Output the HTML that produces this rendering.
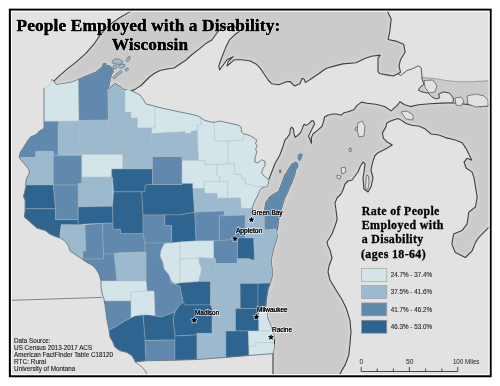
<!DOCTYPE html><html><head><meta charset="utf-8"><style>html,body{margin:0;padding:0;background:#fff;overflow:hidden}svg{display:block;will-change:transform}</style></head><body>
<svg width="500" height="386" viewBox="0 0 500 386">
<defs><filter id="bl" x="-5%" y="-5%" width="110%" height="110%"><feGaussianBlur stdDeviation="1.8"/></filter>
<clipPath id="cs"><polygon points="133.4,10 129.2,12.1 118.8,18.3 108.5,25.6 100.2,34.9 93.9,44.2 85.6,53.6 76.3,61.9 67,69.1 58.7,76.4 53.5,81.6 52,80 56.6,84.7 62.8,83.7 71.1,82.6 78.4,79.5 87.7,75.4 96,72.2 102.2,67.1 103.2,64 105.5,63.4 106.1,65.2 109,65.7 112.5,68.6 113.1,71.6 111.3,74.5 110.2,79.1 109,85 107.8,89.6 115.4,83.8 124.1,89.6 130,91 134.6,89.6 141.6,85 146,80.5 150,76.5 155,73 160,70.5 167,69 174,68 180,64 186,60 192,54.5 200,48.4 206.2,43.2 211.8,40 217.8,31.8 224,27 234,26 239.4,31.2 234.1,35.3 229.3,40.2 226.1,46.6 222.9,54.6 220.5,61 218.8,65.9 219.6,70 227,59.8 231.1,57.7 233.2,56.7 228,61.9 227,66 234.2,59.8 241.5,59.8 249.8,60.8 256,63.9 260.2,68.1 264.3,74.3 268.5,80.5 271.6,83.7 278.8,84.7 287.1,81.6 290,81.5 294.4,85.9 299.9,83.7 302.1,78.2 304.3,79.3 305.4,82.6 312,78.2 318.6,73.8 326.3,68.3 334,66.1 342.8,63.9 356,62.8 364.8,58.4 371.4,56.2 380.2,55.1 378,58.4 378,71.6 380.2,73.8 386.8,74.9 393.4,76 397.8,73.8 400.5,72.2 399,65.9 400.5,59.7 405.2,52 403.6,44.2 395.9,41.1 388.1,39.5 389.7,31.8 391.2,19.3 386.8,10 386.8,-10 133.4,-10"/></clipPath><clipPath id="cm"><polygon points="273,395 273,375 273,353.6 274.5,345 274.5,338.5 273.3,332.6 271.6,328 269.2,322.1 267.5,317.5 266.9,312.8 265.7,307 266.3,300 268,289 270,283 272,277 272,269 271,261 272,255 274,247 276,241 277.6,235.8 276.4,232.2 277.6,227.4 278.8,218 280.5,212 282.4,205 284.6,198 287.2,192.8 289.2,187.6 291.8,182.4 293.7,177.2 295,173.3 295.7,169.5 297.6,166.9 297.6,163.6 295.7,162.3 291.8,164.3 289.2,168.2 286.6,172.7 284.6,175.9 282.7,181.1 280.8,186.3 278.8,191.5 273,194.7 269.1,198 267.8,200 265.8,202.6 264.6,211 263.8,215.4 255,216 252,211 252,207.4 253.8,202.6 255.6,199 258,194.2 259.8,189.4 263.4,187 267,186.4 268.2,182.8 268.8,179.6 274.8,164 279.6,155.6 283.1,146.2 285,139.8 287.4,137.4 289.8,133.8 290.4,129 291.6,127.2 293.4,129 294,133.8 295.2,137.4 298.2,135 300.6,132.6 303,126.6 304.2,124.2 306,125.4 309,123.6 312,120.6 313.8,121.2 314.4,124.2 312,129 310.2,132.6 308.4,136.2 310.2,139.8 311.4,143.4 311.4,137.4 313.2,133.8 316.2,131.4 319.8,128.4 322.2,126 323.4,121.8 324.6,117 327.6,115.2 333,114 336.6,114 341.4,115.2 343.8,112.8 347.2,112 353.8,109.8 357.1,105.4 361.5,102.1 367,103.2 375.8,104.3 384.6,106.5 391.2,110.9 397.9,104.7 399.9,101.7 404.7,104.7 410.5,106.6 418.3,104.7 430,103.7 441.6,103.1 453.3,102.7 468.8,104.7 480.4,106.6 490,105.6 510,105.6 510,225.6 490,225.6 489,227.2 485.6,230.6 478.9,237.3 475.5,242.4 472.1,250.8 465.4,257.5 455.3,252.5 451.9,244.1 453.6,234 462,230.6 467.1,223.9 468.8,212.1 475.5,207 477.2,196.9 475.5,186.8 473.8,176.7 471.9,171.9 466.1,168 464.1,162.2 467,158.3 471.9,160.2 469.9,156.3 466.1,148.6 462.2,142.7 454.4,139.8 446.6,137.9 438.9,135 431.1,134 425.3,129.1 419.4,126.2 411.7,125.3 405.8,123.3 400,119.4 397.8,118.6 391.2,120.8 386.8,123 385.7,127.4 382.4,132.9 383.5,138.4 386.8,141.7 392.3,145 384.6,149.4 378,152.7 374.7,156 372.5,162.6 371,170 373,178 371,187 368,192 364,189 363,178 364,172 365,164 363,162 360,167 358,172 355,176 352,180 348,181 345,184 343,190 341,194 337,198 335,203 336,210 337,218 337,220 335,226 332,234 327,242 328,246 330,250 332,258 329,266 328,272 330,280 336,290 341.8,299.3 346.4,308.6 350,320.3 351,332 350,343.6 348.8,355.3 345.3,364.6 341.8,370.4 339.4,375 339.4,395"/></clipPath>
<clipPath id="fr"><rect x="11" y="11" width="478" height="364"/></clipPath></defs>
<rect x="0" y="0" width="500" height="386" fill="#fff"/>
<g clip-path="url(#fr)">
<rect x="11" y="11" width="478" height="364" fill="#e2e2e2"/>
<g stroke-linejoin="round">
<polygon points="133.4,10 129.2,12.1 118.8,18.3 108.5,25.6 100.2,34.9 93.9,44.2 85.6,53.6 76.3,61.9 67,69.1 58.7,76.4 53.5,81.6 52,80 56.6,84.7 62.8,83.7 71.1,82.6 78.4,79.5 87.7,75.4 96,72.2 102.2,67.1 103.2,64 105.5,63.4 106.1,65.2 109,65.7 112.5,68.6 113.1,71.6 111.3,74.5 110.2,79.1 109,85 107.8,89.6 115.4,83.8 124.1,89.6 130,91 134.6,89.6 141.6,85 146,80.5 150,76.5 155,73 160,70.5 167,69 174,68 180,64 186,60 192,54.5 200,48.4 206.2,43.2 211.8,40 217.8,31.8 224,27 234,26 239.4,31.2 234.1,35.3 229.3,40.2 226.1,46.6 222.9,54.6 220.5,61 218.8,65.9 219.6,70 227,59.8 231.1,57.7 233.2,56.7 228,61.9 227,66 234.2,59.8 241.5,59.8 249.8,60.8 256,63.9 260.2,68.1 264.3,74.3 268.5,80.5 271.6,83.7 278.8,84.7 287.1,81.6 290,81.5 294.4,85.9 299.9,83.7 302.1,78.2 304.3,79.3 305.4,82.6 312,78.2 318.6,73.8 326.3,68.3 334,66.1 342.8,63.9 356,62.8 364.8,58.4 371.4,56.2 380.2,55.1 378,58.4 378,71.6 380.2,73.8 386.8,74.9 393.4,76 397.8,73.8 400.5,72.2 399,65.9 400.5,59.7 405.2,52 403.6,44.2 395.9,41.1 388.1,39.5 389.7,31.8 391.2,19.3 386.8,10 386.8,-10 133.4,-10" fill="#cbcbcb" stroke="none" stroke-width="0" />
<polygon points="273,395 273,375 273,353.6 274.5,345 274.5,338.5 273.3,332.6 271.6,328 269.2,322.1 267.5,317.5 266.9,312.8 265.7,307 266.3,300 268,289 270,283 272,277 272,269 271,261 272,255 274,247 276,241 277.6,235.8 276.4,232.2 277.6,227.4 278.8,218 280.5,212 282.4,205 284.6,198 287.2,192.8 289.2,187.6 291.8,182.4 293.7,177.2 295,173.3 295.7,169.5 297.6,166.9 297.6,163.6 295.7,162.3 291.8,164.3 289.2,168.2 286.6,172.7 284.6,175.9 282.7,181.1 280.8,186.3 278.8,191.5 273,194.7 269.1,198 267.8,200 265.8,202.6 264.6,211 263.8,215.4 255,216 252,211 252,207.4 253.8,202.6 255.6,199 258,194.2 259.8,189.4 263.4,187 267,186.4 268.2,182.8 268.8,179.6 274.8,164 279.6,155.6 283.1,146.2 285,139.8 287.4,137.4 289.8,133.8 290.4,129 291.6,127.2 293.4,129 294,133.8 295.2,137.4 298.2,135 300.6,132.6 303,126.6 304.2,124.2 306,125.4 309,123.6 312,120.6 313.8,121.2 314.4,124.2 312,129 310.2,132.6 308.4,136.2 310.2,139.8 311.4,143.4 311.4,137.4 313.2,133.8 316.2,131.4 319.8,128.4 322.2,126 323.4,121.8 324.6,117 327.6,115.2 333,114 336.6,114 341.4,115.2 343.8,112.8 347.2,112 353.8,109.8 357.1,105.4 361.5,102.1 367,103.2 375.8,104.3 384.6,106.5 391.2,110.9 397.9,104.7 399.9,101.7 404.7,104.7 410.5,106.6 418.3,104.7 430,103.7 441.6,103.1 453.3,102.7 468.8,104.7 480.4,106.6 490,105.6 510,105.6 510,225.6 490,225.6 489,227.2 485.6,230.6 478.9,237.3 475.5,242.4 472.1,250.8 465.4,257.5 455.3,252.5 451.9,244.1 453.6,234 462,230.6 467.1,223.9 468.8,212.1 475.5,207 477.2,196.9 475.5,186.8 473.8,176.7 471.9,171.9 466.1,168 464.1,162.2 467,158.3 471.9,160.2 469.9,156.3 466.1,148.6 462.2,142.7 454.4,139.8 446.6,137.9 438.9,135 431.1,134 425.3,129.1 419.4,126.2 411.7,125.3 405.8,123.3 400,119.4 397.8,118.6 391.2,120.8 386.8,123 385.7,127.4 382.4,132.9 383.5,138.4 386.8,141.7 392.3,145 384.6,149.4 378,152.7 374.7,156 372.5,162.6 371,170 373,178 371,187 368,192 364,189 363,178 364,172 365,164 363,162 360,167 358,172 355,176 352,180 348,181 345,184 343,190 341,194 337,198 335,203 336,210 337,218 337,220 335,226 332,234 327,242 328,246 330,250 332,258 329,266 328,272 330,280 336,290 341.8,299.3 346.4,308.6 350,320.3 351,332 350,343.6 348.8,355.3 345.3,364.6 341.8,370.4 339.4,375 339.4,395" fill="#cbcbcb" stroke="none" stroke-width="0" />
<g clip-path="url(#cs)"><polygon points="133.4,10 129.2,12.1 118.8,18.3 108.5,25.6 100.2,34.9 93.9,44.2 85.6,53.6 76.3,61.9 67,69.1 58.7,76.4 53.5,81.6 52,80 56.6,84.7 62.8,83.7 71.1,82.6 78.4,79.5 87.7,75.4 96,72.2 102.2,67.1 103.2,64 105.5,63.4 106.1,65.2 109,65.7 112.5,68.6 113.1,71.6 111.3,74.5 110.2,79.1 109,85 107.8,89.6 115.4,83.8 124.1,89.6 130,91 134.6,89.6 141.6,85 146,80.5 150,76.5 155,73 160,70.5 167,69 174,68 180,64 186,60 192,54.5 200,48.4 206.2,43.2 211.8,40 217.8,31.8 224,27 234,26 239.4,31.2 234.1,35.3 229.3,40.2 226.1,46.6 222.9,54.6 220.5,61 218.8,65.9 219.6,70 227,59.8 231.1,57.7 233.2,56.7 228,61.9 227,66 234.2,59.8 241.5,59.8 249.8,60.8 256,63.9 260.2,68.1 264.3,74.3 268.5,80.5 271.6,83.7 278.8,84.7 287.1,81.6 290,81.5 294.4,85.9 299.9,83.7 302.1,78.2 304.3,79.3 305.4,82.6 312,78.2 318.6,73.8 326.3,68.3 334,66.1 342.8,63.9 356,62.8 364.8,58.4 371.4,56.2 380.2,55.1 378,58.4 378,71.6 380.2,73.8 386.8,74.9 393.4,76 397.8,73.8 400.5,72.2 399,65.9 400.5,59.7 405.2,52 403.6,44.2 395.9,41.1 388.1,39.5 389.7,31.8 391.2,19.3 386.8,10 386.8,-10 133.4,-10" fill="none" stroke="#d5d5d5" stroke-width="4" filter="url(#bl)"/></g>
<g clip-path="url(#cm)"><polygon points="273,395 273,375 273,353.6 274.5,345 274.5,338.5 273.3,332.6 271.6,328 269.2,322.1 267.5,317.5 266.9,312.8 265.7,307 266.3,300 268,289 270,283 272,277 272,269 271,261 272,255 274,247 276,241 277.6,235.8 276.4,232.2 277.6,227.4 278.8,218 280.5,212 282.4,205 284.6,198 287.2,192.8 289.2,187.6 291.8,182.4 293.7,177.2 295,173.3 295.7,169.5 297.6,166.9 297.6,163.6 295.7,162.3 291.8,164.3 289.2,168.2 286.6,172.7 284.6,175.9 282.7,181.1 280.8,186.3 278.8,191.5 273,194.7 269.1,198 267.8,200 265.8,202.6 264.6,211 263.8,215.4 255,216 252,211 252,207.4 253.8,202.6 255.6,199 258,194.2 259.8,189.4 263.4,187 267,186.4 268.2,182.8 268.8,179.6 274.8,164 279.6,155.6 283.1,146.2 285,139.8 287.4,137.4 289.8,133.8 290.4,129 291.6,127.2 293.4,129 294,133.8 295.2,137.4 298.2,135 300.6,132.6 303,126.6 304.2,124.2 306,125.4 309,123.6 312,120.6 313.8,121.2 314.4,124.2 312,129 310.2,132.6 308.4,136.2 310.2,139.8 311.4,143.4 311.4,137.4 313.2,133.8 316.2,131.4 319.8,128.4 322.2,126 323.4,121.8 324.6,117 327.6,115.2 333,114 336.6,114 341.4,115.2 343.8,112.8 347.2,112 353.8,109.8 357.1,105.4 361.5,102.1 367,103.2 375.8,104.3 384.6,106.5 391.2,110.9 397.9,104.7 399.9,101.7 404.7,104.7 410.5,106.6 418.3,104.7 430,103.7 441.6,103.1 453.3,102.7 468.8,104.7 480.4,106.6 490,105.6 510,105.6 510,225.6 490,225.6 489,227.2 485.6,230.6 478.9,237.3 475.5,242.4 472.1,250.8 465.4,257.5 455.3,252.5 451.9,244.1 453.6,234 462,230.6 467.1,223.9 468.8,212.1 475.5,207 477.2,196.9 475.5,186.8 473.8,176.7 471.9,171.9 466.1,168 464.1,162.2 467,158.3 471.9,160.2 469.9,156.3 466.1,148.6 462.2,142.7 454.4,139.8 446.6,137.9 438.9,135 431.1,134 425.3,129.1 419.4,126.2 411.7,125.3 405.8,123.3 400,119.4 397.8,118.6 391.2,120.8 386.8,123 385.7,127.4 382.4,132.9 383.5,138.4 386.8,141.7 392.3,145 384.6,149.4 378,152.7 374.7,156 372.5,162.6 371,170 373,178 371,187 368,192 364,189 363,178 364,172 365,164 363,162 360,167 358,172 355,176 352,180 348,181 345,184 343,190 341,194 337,198 335,203 336,210 337,218 337,220 335,226 332,234 327,242 328,246 330,250 332,258 329,266 328,272 330,280 336,290 341.8,299.3 346.4,308.6 350,320.3 351,332 350,343.6 348.8,355.3 345.3,364.6 341.8,370.4 339.4,375 339.4,395" fill="none" stroke="#d5d5d5" stroke-width="4" filter="url(#bl)"/></g>
<polygon points="133.4,10 129.2,12.1 118.8,18.3 108.5,25.6 100.2,34.9 93.9,44.2 85.6,53.6 76.3,61.9 67,69.1 58.7,76.4 53.5,81.6 52,80 56.6,84.7 62.8,83.7 71.1,82.6 78.4,79.5 87.7,75.4 96,72.2 102.2,67.1 103.2,64 105.5,63.4 106.1,65.2 109,65.7 112.5,68.6 113.1,71.6 111.3,74.5 110.2,79.1 109,85 107.8,89.6 115.4,83.8 124.1,89.6 130,91 134.6,89.6 141.6,85 146,80.5 150,76.5 155,73 160,70.5 167,69 174,68 180,64 186,60 192,54.5 200,48.4 206.2,43.2 211.8,40 217.8,31.8 224,27 234,26 239.4,31.2 234.1,35.3 229.3,40.2 226.1,46.6 222.9,54.6 220.5,61 218.8,65.9 219.6,70 227,59.8 231.1,57.7 233.2,56.7 228,61.9 227,66 234.2,59.8 241.5,59.8 249.8,60.8 256,63.9 260.2,68.1 264.3,74.3 268.5,80.5 271.6,83.7 278.8,84.7 287.1,81.6 290,81.5 294.4,85.9 299.9,83.7 302.1,78.2 304.3,79.3 305.4,82.6 312,78.2 318.6,73.8 326.3,68.3 334,66.1 342.8,63.9 356,62.8 364.8,58.4 371.4,56.2 380.2,55.1 378,58.4 378,71.6 380.2,73.8 386.8,74.9 393.4,76 397.8,73.8 400.5,72.2 399,65.9 400.5,59.7 405.2,52 403.6,44.2 395.9,41.1 388.1,39.5 389.7,31.8 391.2,19.3 386.8,10 386.8,-10 133.4,-10" fill="none" stroke="#3f3f3f" stroke-width="1.1" />
<polygon points="273,395 273,375 273,353.6 274.5,345 274.5,338.5 273.3,332.6 271.6,328 269.2,322.1 267.5,317.5 266.9,312.8 265.7,307 266.3,300 268,289 270,283 272,277 272,269 271,261 272,255 274,247 276,241 277.6,235.8 276.4,232.2 277.6,227.4 278.8,218 280.5,212 282.4,205 284.6,198 287.2,192.8 289.2,187.6 291.8,182.4 293.7,177.2 295,173.3 295.7,169.5 297.6,166.9 297.6,163.6 295.7,162.3 291.8,164.3 289.2,168.2 286.6,172.7 284.6,175.9 282.7,181.1 280.8,186.3 278.8,191.5 273,194.7 269.1,198 267.8,200 265.8,202.6 264.6,211 263.8,215.4 255,216 252,211 252,207.4 253.8,202.6 255.6,199 258,194.2 259.8,189.4 263.4,187 267,186.4 268.2,182.8 268.8,179.6 274.8,164 279.6,155.6 283.1,146.2 285,139.8 287.4,137.4 289.8,133.8 290.4,129 291.6,127.2 293.4,129 294,133.8 295.2,137.4 298.2,135 300.6,132.6 303,126.6 304.2,124.2 306,125.4 309,123.6 312,120.6 313.8,121.2 314.4,124.2 312,129 310.2,132.6 308.4,136.2 310.2,139.8 311.4,143.4 311.4,137.4 313.2,133.8 316.2,131.4 319.8,128.4 322.2,126 323.4,121.8 324.6,117 327.6,115.2 333,114 336.6,114 341.4,115.2 343.8,112.8 347.2,112 353.8,109.8 357.1,105.4 361.5,102.1 367,103.2 375.8,104.3 384.6,106.5 391.2,110.9 397.9,104.7 399.9,101.7 404.7,104.7 410.5,106.6 418.3,104.7 430,103.7 441.6,103.1 453.3,102.7 468.8,104.7 480.4,106.6 490,105.6 510,105.6 510,225.6 490,225.6 489,227.2 485.6,230.6 478.9,237.3 475.5,242.4 472.1,250.8 465.4,257.5 455.3,252.5 451.9,244.1 453.6,234 462,230.6 467.1,223.9 468.8,212.1 475.5,207 477.2,196.9 475.5,186.8 473.8,176.7 471.9,171.9 466.1,168 464.1,162.2 467,158.3 471.9,160.2 469.9,156.3 466.1,148.6 462.2,142.7 454.4,139.8 446.6,137.9 438.9,135 431.1,134 425.3,129.1 419.4,126.2 411.7,125.3 405.8,123.3 400,119.4 397.8,118.6 391.2,120.8 386.8,123 385.7,127.4 382.4,132.9 383.5,138.4 386.8,141.7 392.3,145 384.6,149.4 378,152.7 374.7,156 372.5,162.6 371,170 373,178 371,187 368,192 364,189 363,178 364,172 365,164 363,162 360,167 358,172 355,176 352,180 348,181 345,184 343,190 341,194 337,198 335,203 336,210 337,218 337,220 335,226 332,234 327,242 328,246 330,250 332,258 329,266 328,272 330,280 336,290 341.8,299.3 346.4,308.6 350,320.3 351,332 350,343.6 348.8,355.3 345.3,364.6 341.8,370.4 339.4,375 339.4,395" fill="none" stroke="#3f3f3f" stroke-width="1.1" />
<polygon points="422.2,77.5 433.8,78.4 445.5,80.4 457.1,81.7 472.7,81.7 510,79.4 510,106 453.3,102.7 453.3,97.9 449.4,93 443.5,92 438.7,94 439.7,97.9 435.8,98.8 431.9,96.9 428,93 422.2,92 418.3,90.1 420.2,87.2 424.1,84.3 422.2,79.4" fill="#cbcbcb" stroke="#777" stroke-width="0.6" />
<polyline points="397.8,73.8 400.8,75.5 406.7,70.7 412.5,68.7 418.3,65.8 421.2,67.8 422.2,79.4 424.1,84.3 420.2,87.2 418.3,90.1 422.2,92 428,93 431.9,96.9 435.8,98.8 439.7,97.9 438.7,94 443.5,92 449.4,93 453.3,97.9 453.3,101.7" fill="none" stroke="#4a4a4a" stroke-width="0.9"/>
<polygon points="424,80.5 433,80 437,86 435,92 429,93 425,87" fill="#e2e2e2" stroke="#555" stroke-width="0.7" />
<polygon points="455,98 461,97 464,101 461,106 456,105" fill="#e2e2e2" stroke="#555" stroke-width="0.7" />
<polygon points="467,96 476,94 484,96 488,100 488,106 476,107 468,104" fill="#e2e2e2" stroke="#555" stroke-width="0.7" />
<polygon points="401,112 407,111 413,115 413,120 406,119" fill="#e2e2e2" stroke="#555" stroke-width="0.7" />
<polygon points="358,123 362,121 365,126 364,136 359,137 357,130" fill="#e2e2e2" stroke="#555" stroke-width="0.7" />
<polygon points="341,168 345,167 346,172 342,174" fill="#e2e2e2" stroke="#555" stroke-width="0.7" />
<polygon points="337,175 341,176 340,179 337,178" fill="#e2e2e2" stroke="#555" stroke-width="0.7" />
<polygon points="366.5,175 368.5,176 369,182 368,189 366.5,191 365.5,186 366,180" fill="#e2e2e2" stroke="#555" stroke-width="0.7" />
<polygon points="355,128 357,127.5 357.5,130 355.5,130.5" fill="#e2e2e2" stroke="#555" stroke-width="0.7" />
<polygon points="349,148.5 351,148 351.5,151 349.5,151.5" fill="#e2e2e2" stroke="#555" stroke-width="0.7" />
<polygon points="112,61 115,59 119,59 122,60.5 123,62.5 120,64.5 116,64 113,63.5" fill="#9cb9cd" stroke="#556070" stroke-width="0.6" />
<polygon points="126,60.5 128,57 130,56.5 130,59 127.5,62" fill="#9cb9cd" stroke="#556070" stroke-width="0.6" />
<polygon points="113,66 115.5,65 117,67 116,69 113.5,68.5" fill="#9cb9cd" stroke="#556070" stroke-width="0.6" />
<polygon points="118,66 121,64.2 125,64.5 124.5,67 120,68.5" fill="#9cb9cd" stroke="#556070" stroke-width="0.6" />
<polygon points="124.5,69.5 127,68 128.8,69 126.5,71.5" fill="#9cb9cd" stroke="#556070" stroke-width="0.6" />
<polygon points="112.8,77.5 116,74 121,70.5 122.4,71.8 118,75.5 114,79" fill="#9cb9cd" stroke="#556070" stroke-width="0.6" />
<polyline points="11,300.3 40,299.4 102,297.4" fill="none" stroke="#5a5a5a" stroke-width="0.7"/>
<polyline points="135.2,362 137.6,363.8 142.4,367.4 145.4,371 147.2,375" fill="none" stroke="#5a5a5a" stroke-width="0.7"/>
<polygon points="52,80 56.6,84.7 62.8,83.7 71.1,82.6 78.4,79.5 79,121.2 44,121.4 44,88 47,87 49,85" fill="#d4e5ea" stroke="#a9b7c2" stroke-width="0.5" stroke-opacity="0.75"/>
<polygon points="78.4,79.5 87.7,75.4 96,72.2 102.2,67.1 103.2,64 105.5,63.4 106.1,65.2 109,65.7 112.5,68.6 113.1,71.6 111.3,74.5 110.2,79.1 109,85 107.8,89.6 108.5,120 79,120.5" fill="#6189ad" stroke="#a9b7c2" stroke-width="0.5" stroke-opacity="0.75"/>
<polygon points="107.8,89.6 115.4,83.8 124.1,89.6 125,90 125,112 131,112 131,118 137.5,118 137.5,129 108.5,129 108.5,120" fill="#9cb9cd" stroke="#a9b7c2" stroke-width="0.5" stroke-opacity="0.75"/>
<polygon points="125,90 130,90 136,93 140,95 143,99 146,104 154,106 155,107 155,128 137.5,128 137.5,118 131,118 131,112 125,112" fill="#d4e5ea" stroke="#a9b7c2" stroke-width="0.5" stroke-opacity="0.75"/>
<polygon points="155,107 166,109 180,112 190,114 198,116 201.3,119.5 201.3,124.5 197.3,125.4 197.3,130.8 191.3,131.2 190.4,133.6 185.8,133.6 184.9,131.8 151.4,133.6 151.4,128 155,128" fill="#d4e5ea" stroke="#a9b7c2" stroke-width="0.5" stroke-opacity="0.75"/>
<polygon points="121,129 137.5,129 137.5,128 151.4,128 151.4,133.6 152.5,156.5 152.5,169 122.6,169 122.6,154.5 121,154.5" fill="#9cb9cd" stroke="#a9b7c2" stroke-width="0.5" stroke-opacity="0.75"/>
<polygon points="79,120.5 108.5,120 108.5,129 121,129 121,154.5 80,154.5" fill="#9cb9cd" stroke="#a9b7c2" stroke-width="0.5" stroke-opacity="0.75"/>
<polygon points="44,121.4 44,128.6 39.8,130.7 35.7,134.8 30.5,136.9 27.4,141 24.3,146.2 20.2,152.4 19.1,157.6 35.7,157.6 35.7,151.4 53.4,151.4 53.4,155.6 58.2,155.6 58.2,121.3" fill="#6189ad" stroke="#a9b7c2" stroke-width="0.5" stroke-opacity="0.75"/>
<polygon points="58.2,121.3 79,121.2 80,154.5 80,155.5 58.2,155.6" fill="#9cb9cd" stroke="#a9b7c2" stroke-width="0.5" stroke-opacity="0.75"/>
<polygon points="19.1,157.6 35.7,157.6 35.7,151.4 53.4,151.4 53.4,185 25.6,185 26.4,178.3 29.5,173.1 28.5,169 24.3,163.8" fill="#9cb9cd" stroke="#a9b7c2" stroke-width="0.5" stroke-opacity="0.75"/>
<polygon points="53.4,155.6 58.2,155.6 80,155.5 81.8,154.5 81.8,183.6 78.2,183.8 78.2,185 53.4,185" fill="#6189ad" stroke="#a9b7c2" stroke-width="0.5" stroke-opacity="0.75"/>
<polygon points="80,154.5 121,154.5 122.6,154.5 122.6,169 111.7,169 111.7,177.2 81.8,177.2 81.8,154.5" fill="#d4e5ea" stroke="#a9b7c2" stroke-width="0.5" stroke-opacity="0.75"/>
<polygon points="81.8,177.2 111.7,177.2 112.6,177.2 112.6,206.3 78.2,207 78.2,183.8 81.8,183.6" fill="#9cb9cd" stroke="#a9b7c2" stroke-width="0.5" stroke-opacity="0.75"/>
<polygon points="25.6,185 53.4,185 55.6,208.8 25.1,208.7 25.1,200.2 23.4,196 24.3,193.5 26,185.9" fill="#2e6490" stroke="#a9b7c2" stroke-width="0.5" stroke-opacity="0.75"/>
<polygon points="25.1,208.7 55.6,208.8 55.6,219.6 78.2,219.6 78.2,225 61.4,224.7 59.8,235.8 60.5,238.2 55.5,236.5 49.6,234 45.4,230.6 36.9,228.1 30.2,222.2 24.3,217.1 25.1,210.4" fill="#2e6490" stroke="#a9b7c2" stroke-width="0.5" stroke-opacity="0.75"/>
<polygon points="53.4,185 78.2,185 78.2,219.6 55.6,219.6 55.6,208.8" fill="#6189ad" stroke="#a9b7c2" stroke-width="0.5" stroke-opacity="0.75"/>
<polygon points="78.2,207 112.6,206.3 113,223 85,224 78.2,225 78.2,219.6" fill="#2e6490" stroke="#a9b7c2" stroke-width="0.5" stroke-opacity="0.75"/>
<polygon points="61.4,224.7 85,224.8 86,251 83,251 83,257 82,259 76,255 70,251 68.5,246 65.6,241.6 60.5,238.2 59.8,235.8" fill="#9cb9cd" stroke="#a9b7c2" stroke-width="0.5" stroke-opacity="0.75"/>
<polygon points="85,224.8 102.5,223.5 103.5,254 103.5,259 86,259 82,259 83,257 83,251 86,251" fill="#6189ad" stroke="#a9b7c2" stroke-width="0.5" stroke-opacity="0.75"/>
<polygon points="102.5,223.5 113,223 113,229 120.5,229 120.5,233.5 143,233.5 145,243 145,252 117,253 114,254 103.5,254" fill="#6189ad" stroke="#a9b7c2" stroke-width="0.5" stroke-opacity="0.75"/>
<polygon points="113.6,191.7 141.7,191.7 143,214.9 143,233.5 120.5,233.5 120.5,229 113,229 113,223 112.6,206.3" fill="#2e6490" stroke="#a9b7c2" stroke-width="0.5" stroke-opacity="0.75"/>
<polygon points="111.7,169 152.5,169 152.5,184.5 145.3,185 145,191.7 113.6,191.7 112.6,177.2 111.7,177.2" fill="#2e6490" stroke="#a9b7c2" stroke-width="0.5" stroke-opacity="0.75"/>
<polygon points="145.3,185 152.5,184.5 182,184.5 182,183.2 192.8,183.2 193,188.6 194.6,212.2 180,214.9 143,214.9 141.7,191.7 145,191.7" fill="#2e6490" stroke="#a9b7c2" stroke-width="0.5" stroke-opacity="0.75"/>
<polygon points="152.5,156.5 182,156.5 182,160.5 182,183.2 182,184.5 152.5,184.5" fill="#6189ad" stroke="#a9b7c2" stroke-width="0.5" stroke-opacity="0.75"/>
<polygon points="151.4,133.6 184.9,131.8 185.8,133.6 190.4,133.6 191.3,131.2 197.3,130.8 198.5,160.5 182,160.5 182,156.5 152.5,156.5" fill="#9cb9cd" stroke="#a9b7c2" stroke-width="0.5" stroke-opacity="0.75"/>
<polygon points="182,160.5 198.5,160.5 205,160.5 205.4,164.5 216.8,164.5 216.8,175.4 219.8,176 219.8,181.4 204.2,181.4 204.2,188.6 192.8,188.6 192.8,183.2 182,183.2" fill="#d4e5ea" stroke="#a9b7c2" stroke-width="0.5" stroke-opacity="0.75"/>
<polygon points="198,116 204,120 209,121.6 214,122.4 215,141 228,141 228,164 216.8,164.5 205.4,164.5 205,160.5 198.5,160.5 197.3,125.4 201.3,124.5 201.3,119.5" fill="#d4e5ea" stroke="#a9b7c2" stroke-width="0.5" stroke-opacity="0.75"/>
<polygon points="214,122.4 220,121 226,122.4 233,124 238,125 241,127 241.6,132 244,134 243,140 228,141 215,141" fill="#d4e5ea" stroke="#a9b7c2" stroke-width="0.5" stroke-opacity="0.75"/>
<polygon points="244,134 245,134 250,135.6 254,138 256.8,140 255.6,143.6 257.4,146 255.6,149 256.8,152 255,158 255,162.2 258,162.8 261.6,159.8 264.6,161 265.2,165.2 262.8,168.8 261.6,173 264,176 267,178.4 268.8,179.6 268.2,182.8 267,186.4 254.4,187 253.2,185.2 245.4,184 244.8,178.6 242,179 241.4,174.8 234.8,174.2 234.2,163.4 228,163.4 228,141 243,140" fill="#d4e5ea" stroke="#a9b7c2" stroke-width="0.5" stroke-opacity="0.75"/>
<polygon points="216.8,164.5 228,164 234.2,163.4 234.8,174.2 241.4,174.8 242,179 244.8,178.6 245.4,184 253.2,185.2 254.4,187 267,186.4 263.4,187 259.8,189.4 258,194.2 255.6,199 253.8,202.6 252,207.4 251.4,208.5 241,208.5 240.4,198 227.6,198.2 227.6,181.4 219.8,181.4 219.8,176 216.8,175.4" fill="#d4e5ea" stroke="#a9b7c2" stroke-width="0.5" stroke-opacity="0.75"/>
<polygon points="204.2,181.4 227.6,181.4 227.6,198.2 217.4,198.2 216.8,193.4 204.8,193.4 204.2,188.6" fill="#d4e5ea" stroke="#a9b7c2" stroke-width="0.5" stroke-opacity="0.75"/>
<polygon points="192.8,188.6 204.2,188.6 204.8,193.4 216.8,193.4 217.4,198.2 240.4,198 241,208.5 241.4,215.2 224,215.8 224,211 194.6,212.2 193,188.6" fill="#9cb9cd" stroke="#a9b7c2" stroke-width="0.5" stroke-opacity="0.75"/>
<polygon points="295.7,162.3 297.6,163.6 297.6,166.9 295.7,169.5 295,173.3 293.7,177.2 291.8,182.4 289.2,187.6 287.2,192.8 284.6,198 282.4,205 280.5,212 278.8,218 277.6,227.4 276.4,229 264.4,230 264.2,214 264.6,211 265.8,202.6 267.8,200 269.1,198 273,194.7 278.8,191.5 280.8,186.3 282.7,181.1 284.6,175.9 286.6,172.7 289.2,168.2 291.8,164.3" fill="#6189ad" stroke="#a9b7c2" stroke-width="0.5" stroke-opacity="0.75"/>
<polygon points="297.6,155 300,153.2 302.8,154 302,158 299.5,161.7 297.6,159" fill="#6189ad" stroke="#a9b7c2" stroke-width="0.5" stroke-opacity="0.75"/>
<polygon points="278.8,170 281,169.5 281.4,172.5 279.5,173.3" fill="#6a6a6a" stroke="#a9b7c2" stroke-width="0.5" stroke-opacity="0.75"/>
<polygon points="241,208.5 251.4,208.5 252,211 255,216 263.8,215.4 264.4,230 253.6,230 253.6,238 245,238 245,215 241.4,215.2" fill="#9cb9cd" stroke="#a9b7c2" stroke-width="0.5" stroke-opacity="0.75"/>
<polygon points="253.6,230 264.4,230 276.4,229 277.6,235.8 276,241 274,247 272,255 271,261 254.4,260.7 253.6,238" fill="#9cb9cd" stroke="#a9b7c2" stroke-width="0.5" stroke-opacity="0.75"/>
<polygon points="219.2,215.8 224,215.8 241.4,215.2 245,215 245,238 236.5,238 236.5,239.5 219.2,240.5" fill="#6189ad" stroke="#a9b7c2" stroke-width="0.5" stroke-opacity="0.75"/>
<polygon points="194.6,212.2 224,211 224,215.8 219.2,215.8 219.2,241 196,241" fill="#6189ad" stroke="#a9b7c2" stroke-width="0.5" stroke-opacity="0.75"/>
<polygon points="164.8,214.9 180,214.9 194.6,212.2 196,241 180,242 171.5,243 171.5,225.7 164.8,225.7" fill="#2e6490" stroke="#a9b7c2" stroke-width="0.5" stroke-opacity="0.75"/>
<polygon points="143,214.9 164.8,214.9 164.8,225.7 171.5,225.7 171.5,243 166,243 145,243 143,233.5" fill="#6189ad" stroke="#a9b7c2" stroke-width="0.5" stroke-opacity="0.75"/>
<polygon points="236.5,238 253.6,238 254.4,260.7 249,258.8 237.3,258.8 237.3,239.5 236.5,239.5" fill="#2e6490" stroke="#a9b7c2" stroke-width="0.5" stroke-opacity="0.75"/>
<polygon points="213.5,240.7 219.2,240.5 237.3,239.5 237.3,263.5 215.4,263.5 215.4,258.5 213.5,258.5" fill="#6189ad" stroke="#a9b7c2" stroke-width="0.5" stroke-opacity="0.75"/>
<polygon points="180,242 196,241 213.5,240.7 213.5,258.5 199.3,257.8 180,259.5" fill="#d4e5ea" stroke="#a9b7c2" stroke-width="0.5" stroke-opacity="0.75"/>
<polygon points="171.5,243 180,242 180,283 175,284 171,281 169,275 164,269 163,263 160,256 161,250 164,244 166,243" fill="#d4e5ea" stroke="#a9b7c2" stroke-width="0.5" stroke-opacity="0.75"/>
<polygon points="180,259.5 199.3,257.8 199.3,264 201,266 201.5,270 200.5,276 199.3,277 199.3,281.6 180,283" fill="#d4e5ea" stroke="#a9b7c2" stroke-width="0.5" stroke-opacity="0.75"/>
<polygon points="199.3,257.8 215.4,258.5 215.4,279.7 210.7,279.7 210.7,281.6 199.3,281.6 199.3,277 200.5,276 201.5,270 201,266 199.3,264" fill="#9cb9cd" stroke="#a9b7c2" stroke-width="0.5" stroke-opacity="0.75"/>
<polygon points="215.4,263.5 237.3,263.5 237.3,258.8 249,258.8 250.6,259.7 250.6,283.5 240.1,283.5 240.1,281.5 210.7,279.7 215.4,279.7" fill="#9cb9cd" stroke="#a9b7c2" stroke-width="0.5" stroke-opacity="0.75"/>
<polygon points="250.6,259.7 254.4,260.7 271,261 272,269 272,277 270,283 258,283.5 250.6,283.5" fill="#9cb9cd" stroke="#a9b7c2" stroke-width="0.5" stroke-opacity="0.75"/>
<polygon points="145,243 166,243 164,244 161,250 160,256 163,263 164,269 169,275 171,281 175,284 180,286 182,296 183,302 179,306 175,312 167,315 161,317 155,316 154,291 147,291 146,281 146,252 145,252" fill="#6189ad" stroke="#a9b7c2" stroke-width="0.5" stroke-opacity="0.75"/>
<polygon points="114,254 117,253 145,252 146,252 146,281 117,281 114,257" fill="#9cb9cd" stroke="#a9b7c2" stroke-width="0.5" stroke-opacity="0.75"/>
<polygon points="86,259 103.5,259 103.5,254 114,254 117,281 101,281 99,274 96,269 92,265 86,262 82,259" fill="#6189ad" stroke="#a9b7c2" stroke-width="0.5" stroke-opacity="0.75"/>
<polygon points="101,281 146,281 147,291 131,292 131,301 104,301 102,293 101,287" fill="#d4e5ea" stroke="#a9b7c2" stroke-width="0.5" stroke-opacity="0.75"/>
<polygon points="104,301 131,301 131,318 125,321 117,326 109,330 107,320 105,305" fill="#6189ad" stroke="#a9b7c2" stroke-width="0.5" stroke-opacity="0.75"/>
<polygon points="131,292 147,291 154,291 155,316 149,315 143,315 135,316 131,318" fill="#d4e5ea" stroke="#a9b7c2" stroke-width="0.5" stroke-opacity="0.75"/>
<polygon points="169,282 175,284 180,283 199.3,281.6 210.7,281.6 210.7,279.7 210.6,305 185,305 183,302 182,296 180,286" fill="#2e6490" stroke="#a9b7c2" stroke-width="0.5" stroke-opacity="0.75"/>
<polygon points="210.7,279.7 215.4,279.7 240.1,281.5 240.1,283.5 240.3,308.5 212.2,309.3 210.6,305" fill="#9cb9cd" stroke="#a9b7c2" stroke-width="0.5" stroke-opacity="0.75"/>
<polygon points="240.1,283.5 258,283.5 258,308.5 240.3,308.5" fill="#2e6490" stroke="#a9b7c2" stroke-width="0.5" stroke-opacity="0.75"/>
<polygon points="258,283.5 270,283 268,289 266.3,300 265.7,307 266.9,311 258.8,311.7 258,308.5" fill="#2e6490" stroke="#a9b7c2" stroke-width="0.5" stroke-opacity="0.75"/>
<polygon points="183,302 185,305 210.6,305 212.2,309.3 212.2,333.4 197,333.4 195,335 175,336 173,318 175,312 179,306" fill="#2e6490" stroke="#a9b7c2" stroke-width="0.5" stroke-opacity="0.75"/>
<polygon points="143,315 149,315 155,316 161,317 167,315 175,312 173,318 175,336 175,340 145,340.4" fill="#2e6490" stroke="#a9b7c2" stroke-width="0.5" stroke-opacity="0.75"/>
<polygon points="131,318 135,316 143,315 145,339 146,360.8 135.2,362 134,359 131.6,355.4 126.8,352.4 119.6,350.6 114.8,347 112.4,341 110,337.4 109,330 117,326 125,321" fill="#2e6490" stroke="#a9b7c2" stroke-width="0.5" stroke-opacity="0.75"/>
<polygon points="145,340.4 175,340 175,360.2 146,360.8" fill="#6189ad" stroke="#a9b7c2" stroke-width="0.5" stroke-opacity="0.75"/>
<polygon points="175,336 195,335 197,333.4 197,359.5 175,360.2" fill="#2e6490" stroke="#a9b7c2" stroke-width="0.5" stroke-opacity="0.75"/>
<polygon points="197,333.4 212.2,333.4 225.9,333 225.9,357.4 197,359.5" fill="#9cb9cd" stroke="#a9b7c2" stroke-width="0.5" stroke-opacity="0.75"/>
<polygon points="212.2,309.3 240.3,308.5 235.5,308.5 235.5,333.4 212.2,333.4" fill="#9cb9cd" stroke="#a9b7c2" stroke-width="0.5" stroke-opacity="0.75"/>
<polygon points="235.5,308.5 240.3,308.5 258,308.5 258.8,311.7 258.8,331 235.5,331" fill="#2e6490" stroke="#a9b7c2" stroke-width="0.5" stroke-opacity="0.75"/>
<polygon points="258.8,311.7 266.9,311 267.5,317.5 269.2,322.1 271.6,328 269.2,331 258.8,331" fill="#d4e5ea" stroke="#a9b7c2" stroke-width="0.5" stroke-opacity="0.75"/>
<polygon points="225.9,331 235.5,331 248.3,331 249,355.5 225.9,357.4" fill="#2e6490" stroke="#a9b7c2" stroke-width="0.5" stroke-opacity="0.75"/>
<polygon points="248.3,331 258.8,331 269.2,331 271.6,328 273.3,332.6 274.5,338.5 273,342.4 255,343 255,346.5 249,346.5" fill="#d4e5ea" stroke="#a9b7c2" stroke-width="0.5" stroke-opacity="0.75"/>
<polygon points="249,346.5 255,346.5 255,343 273,342.4 274.5,345 273,353.6 249,355.5" fill="#d4e5ea" stroke="#a9b7c2" stroke-width="0.5" stroke-opacity="0.75"/>
<polyline points="130,90 136,93 140,95 143,99 146,104 154,106 166,109 180,112 190,114 198,116 204,120 209,121.6 214,122.4 220,121 226,122.4 233,124 238,125 241,127 241.6,132 244,134 245,134 250,135.6 254,138 256.8,140 255.6,143.6 257.4,146 255.6,149 256.8,152 255,158 255,162.2 258,162.8 261.6,159.8 264.6,161 265.2,165.2 262.8,168.8 261.6,173 264,176 267,178.4 268.8,179.6" fill="none" stroke="#596470" stroke-width="0.7"/>
<polyline points="44,88 44,121.4 44,128.6 39.8,130.7 35.7,134.8 30.5,136.9 27.4,141 24.3,146.2 20.2,152.4 19.1,157.6 24.3,163.8 28.5,169 29.5,173.1 26.4,178.3 25.6,185 26,185.9 24.3,193.5 23.4,196 25.1,200.2 25.1,210.4 24.3,217.1 30.2,222.2 36.9,228.1 45.4,230.6 49.6,234 55.5,236.5 60.5,238.2 65.6,241.6 68.5,246 70,251 76,255 82,259 86,262 92,265 96,269 99,274 101,281 101,287 102,293 104,299 105,305 107,320 109,330 110,337.4 112.4,341 114.8,347 119.6,350.6 126.8,352.4 131.6,355.4 134,359 135.2,362 146,360.8 175,360.2 197,359.5 225.9,357.4 249,355.5 273,353.6" fill="none" stroke="#596470" stroke-width="0.7"/>
</g></g>
<rect x="9.9" y="9.7" width="480.7" height="366.5" fill="none" stroke="#000" stroke-width="2.1"/>
<rect x="11.45" y="11.25" width="477.6" height="363.4" fill="none" stroke="#fff" stroke-width="1"/>
<text x="16.6" y="30.6" font-family="'Liberation Serif', serif" font-size="17.3" font-weight="bold" fill="#000" textLength="263.6" lengthAdjust="spacing" stroke="#ffffff" stroke-width="1.3" stroke-opacity="0.45" style="paint-order:stroke">People Employed with a Disability:</text>
<text x="16.6" y="30.6" font-family="'Liberation Serif', serif" font-size="17.3" font-weight="bold" fill="#000" textLength="263.6" lengthAdjust="spacing" stroke="#000" stroke-width="0.3">People Employed with a Disability:</text>
<text x="111.7" y="50.3" font-family="'Liberation Serif', serif" font-size="17.3" font-weight="bold" fill="#000" textLength="76.4" lengthAdjust="spacing" stroke="#ffffff" stroke-width="1.3" stroke-opacity="0.45" style="paint-order:stroke">Wisconsin</text>
<text x="111.7" y="50.3" font-family="'Liberation Serif', serif" font-size="17.3" font-weight="bold" fill="#000" textLength="76.4" lengthAdjust="spacing" stroke="#000" stroke-width="0.3">Wisconsin</text>
<text x="361.8" y="214.5" font-family="'Liberation Serif', serif" font-size="11.9" font-weight="bold" fill="#000" textLength="77.6" lengthAdjust="spacing" stroke="#000" stroke-width="0.3">Rate of People</text>
<text x="361.8" y="228.85" font-family="'Liberation Serif', serif" font-size="11.9" font-weight="bold" fill="#000" textLength="81.6" lengthAdjust="spacing" stroke="#000" stroke-width="0.3">Employed with</text>
<text x="361.8" y="243.2" font-family="'Liberation Serif', serif" font-size="11.9" font-weight="bold" fill="#000" textLength="61.4" lengthAdjust="spacing" stroke="#000" stroke-width="0.3">a Disability</text>
<text x="361.0" y="257.55" font-family="'Liberation Serif', serif" font-size="11.9" font-weight="bold" fill="#000" textLength="64.6" lengthAdjust="spacing" stroke="#000" stroke-width="0.3">(ages 18-64)</text>
<rect x="361.6" y="268.30" width="25.2" height="13" fill="#d4e5ea" stroke="#9a9a9a" stroke-width="0.6"/>
<text x="390.7" y="277.0" font-family="'Liberation Sans', sans-serif" font-size="6.6" font-weight="normal" fill="#2a2a2a" textLength="41.3" lengthAdjust="spacingAndGlyphs" stroke="#2a2a2a" stroke-width="0.12">24.7% - 37.4%</text>
<rect x="361.6" y="285.60" width="25.2" height="13" fill="#9cb9cd" stroke="#9a9a9a" stroke-width="0.6"/>
<text x="390.7" y="294.35" font-family="'Liberation Sans', sans-serif" font-size="6.6" font-weight="normal" fill="#2a2a2a" textLength="41.3" lengthAdjust="spacingAndGlyphs" stroke="#2a2a2a" stroke-width="0.12">37.5% - 41.6%</text>
<rect x="361.6" y="302.90" width="25.2" height="13" fill="#6189ad" stroke="#9a9a9a" stroke-width="0.6"/>
<text x="390.7" y="311.7" font-family="'Liberation Sans', sans-serif" font-size="6.6" font-weight="normal" fill="#2a2a2a" textLength="41.3" lengthAdjust="spacingAndGlyphs" stroke="#2a2a2a" stroke-width="0.12">41.7% - 46.2%</text>
<rect x="361.6" y="320.20" width="25.2" height="13" fill="#2e6490" stroke="#9a9a9a" stroke-width="0.6"/>
<text x="390.7" y="329.05" font-family="'Liberation Sans', sans-serif" font-size="6.6" font-weight="normal" fill="#2a2a2a" textLength="41.3" lengthAdjust="spacingAndGlyphs" stroke="#2a2a2a" stroke-width="0.12">46.3% - 53.0%</text>
<g stroke="#222" stroke-width="0.8" fill="none">
<polyline points="361.2,367 361.2,371.5 457.8,371.5 457.8,367"/>
<line x1="377.2" y1="368.5" x2="377.2" y2="371.5"/>
<line x1="393.4" y1="368.5" x2="393.4" y2="371.5"/>
<line x1="409.4" y1="367" x2="409.4" y2="371.5"/>
<line x1="425.6" y1="368.5" x2="425.6" y2="371.5"/>
<line x1="441.9" y1="368.5" x2="441.9" y2="371.5"/>
</g>
<text x="359.4" y="364" font-family="'Liberation Sans', sans-serif" font-size="6.6" font-weight="normal" fill="#222" textLength="3.7" lengthAdjust="spacingAndGlyphs" >0</text>
<text x="406.0" y="364" font-family="'Liberation Sans', sans-serif" font-size="6.6" font-weight="normal" fill="#222" textLength="7.4" lengthAdjust="spacingAndGlyphs" >50</text>
<text x="452.9" y="364" font-family="'Liberation Sans', sans-serif" font-size="6.6" font-weight="normal" fill="#222" textLength="26.6" lengthAdjust="spacingAndGlyphs" >100 Miles</text>
<text x="14.1" y="342.5" font-family="'Liberation Sans', sans-serif" font-size="6.5" font-weight="normal" fill="#222" textLength="36.4" lengthAdjust="spacingAndGlyphs" stroke="#222" stroke-width="0.12">Data Source:</text>
<text x="14.1" y="349.5" font-family="'Liberation Sans', sans-serif" font-size="6.5" font-weight="normal" fill="#222" textLength="78.0" lengthAdjust="spacingAndGlyphs" stroke="#222" stroke-width="0.12">US Census 2013-2017 ACS</text>
<text x="14.1" y="356.5" font-family="'Liberation Sans', sans-serif" font-size="6.5" font-weight="normal" fill="#222" textLength="99.0" lengthAdjust="spacingAndGlyphs" stroke="#222" stroke-width="0.12">American FactFinder Table C18120</text>
<text x="14.1" y="363.5" font-family="'Liberation Sans', sans-serif" font-size="6.5" font-weight="normal" fill="#222" textLength="32.0" lengthAdjust="spacingAndGlyphs" stroke="#222" stroke-width="0.12">RTC: Rural</text>
<text x="14.1" y="370.5" font-family="'Liberation Sans', sans-serif" font-size="6.5" font-weight="normal" fill="#222" textLength="61.2" lengthAdjust="spacingAndGlyphs" stroke="#222" stroke-width="0.12">University of Montana</text>
<polygon points="251.50,216.40 252.37,218.50 254.64,218.68 252.91,220.16 253.44,222.37 251.50,221.19 249.56,222.37 250.09,220.16 248.36,218.68 250.63,218.50" fill="#000" stroke="#fff" stroke-width="1.3" stroke-opacity="0.75" stroke-linejoin="round" style="paint-order:stroke"/>
<text x="251.6" y="215" font-family="'Liberation Sans', sans-serif" font-size="6.6" font-weight="normal" fill="#111" textLength="31" lengthAdjust="spacingAndGlyphs" stroke="#fff" stroke-width="1.6" stroke-opacity="0.7" style="paint-order:stroke">Green Bay</text>
<text x="251.6" y="215" font-family="'Liberation Sans', sans-serif" font-size="6.6" font-weight="normal" fill="#111" textLength="31" lengthAdjust="spacingAndGlyphs" stroke="#111" stroke-width="0.2">Green Bay</text>
<polygon points="235.00,235.50 235.87,237.60 238.14,237.78 236.41,239.26 236.94,241.47 235.00,240.29 233.06,241.47 233.59,239.26 231.86,237.78 234.13,237.60" fill="#000" stroke="#fff" stroke-width="1.3" stroke-opacity="0.75" stroke-linejoin="round" style="paint-order:stroke"/>
<text x="235.9" y="233.2" font-family="'Liberation Sans', sans-serif" font-size="6.6" font-weight="normal" fill="#111" textLength="26.4" lengthAdjust="spacingAndGlyphs" stroke="#fff" stroke-width="1.6" stroke-opacity="0.7" style="paint-order:stroke">Appleton</text>
<text x="235.9" y="233.2" font-family="'Liberation Sans', sans-serif" font-size="6.6" font-weight="normal" fill="#111" textLength="26.4" lengthAdjust="spacingAndGlyphs" stroke="#111" stroke-width="0.2">Appleton</text>
<polygon points="194.20,316.90 195.07,319.00 197.34,319.18 195.61,320.66 196.14,322.87 194.20,321.69 192.26,322.87 192.79,320.66 191.06,319.18 193.33,319.00" fill="#000" stroke="#fff" stroke-width="1.3" stroke-opacity="0.75" stroke-linejoin="round" style="paint-order:stroke"/>
<text x="195" y="314.8" font-family="'Liberation Sans', sans-serif" font-size="6.6" font-weight="normal" fill="#111" textLength="24.2" lengthAdjust="spacingAndGlyphs" stroke="#fff" stroke-width="1.6" stroke-opacity="0.7" style="paint-order:stroke">Madison</text>
<text x="195" y="314.8" font-family="'Liberation Sans', sans-serif" font-size="6.6" font-weight="normal" fill="#111" textLength="24.2" lengthAdjust="spacingAndGlyphs" stroke="#111" stroke-width="0.2">Madison</text>
<polygon points="256.40,313.60 257.27,315.70 259.54,315.88 257.81,317.36 258.34,319.57 256.40,318.38 254.46,319.57 254.99,317.36 253.26,315.88 255.53,315.70" fill="#000" stroke="#fff" stroke-width="1.3" stroke-opacity="0.75" stroke-linejoin="round" style="paint-order:stroke"/>
<text x="257" y="311.7" font-family="'Liberation Sans', sans-serif" font-size="6.6" font-weight="normal" fill="#111" textLength="30.6" lengthAdjust="spacingAndGlyphs" stroke="#fff" stroke-width="1.6" stroke-opacity="0.7" style="paint-order:stroke">Milwaukee</text>
<text x="257" y="311.7" font-family="'Liberation Sans', sans-serif" font-size="6.6" font-weight="normal" fill="#111" textLength="30.6" lengthAdjust="spacingAndGlyphs" stroke="#111" stroke-width="0.2">Milwaukee</text>
<polygon points="271.00,334.00 271.87,336.10 274.14,336.28 272.41,337.76 272.94,339.97 271.00,338.79 269.06,339.97 269.59,337.76 267.86,336.28 270.13,336.10" fill="#000" stroke="#fff" stroke-width="1.3" stroke-opacity="0.75" stroke-linejoin="round" style="paint-order:stroke"/>
<text x="272" y="331.7" font-family="'Liberation Sans', sans-serif" font-size="6.6" font-weight="normal" fill="#111" textLength="20" lengthAdjust="spacingAndGlyphs" stroke="#fff" stroke-width="1.6" stroke-opacity="0.7" style="paint-order:stroke">Racine</text>
<text x="272" y="331.7" font-family="'Liberation Sans', sans-serif" font-size="6.6" font-weight="normal" fill="#111" textLength="20" lengthAdjust="spacingAndGlyphs" stroke="#111" stroke-width="0.2">Racine</text>
</svg></body></html>
